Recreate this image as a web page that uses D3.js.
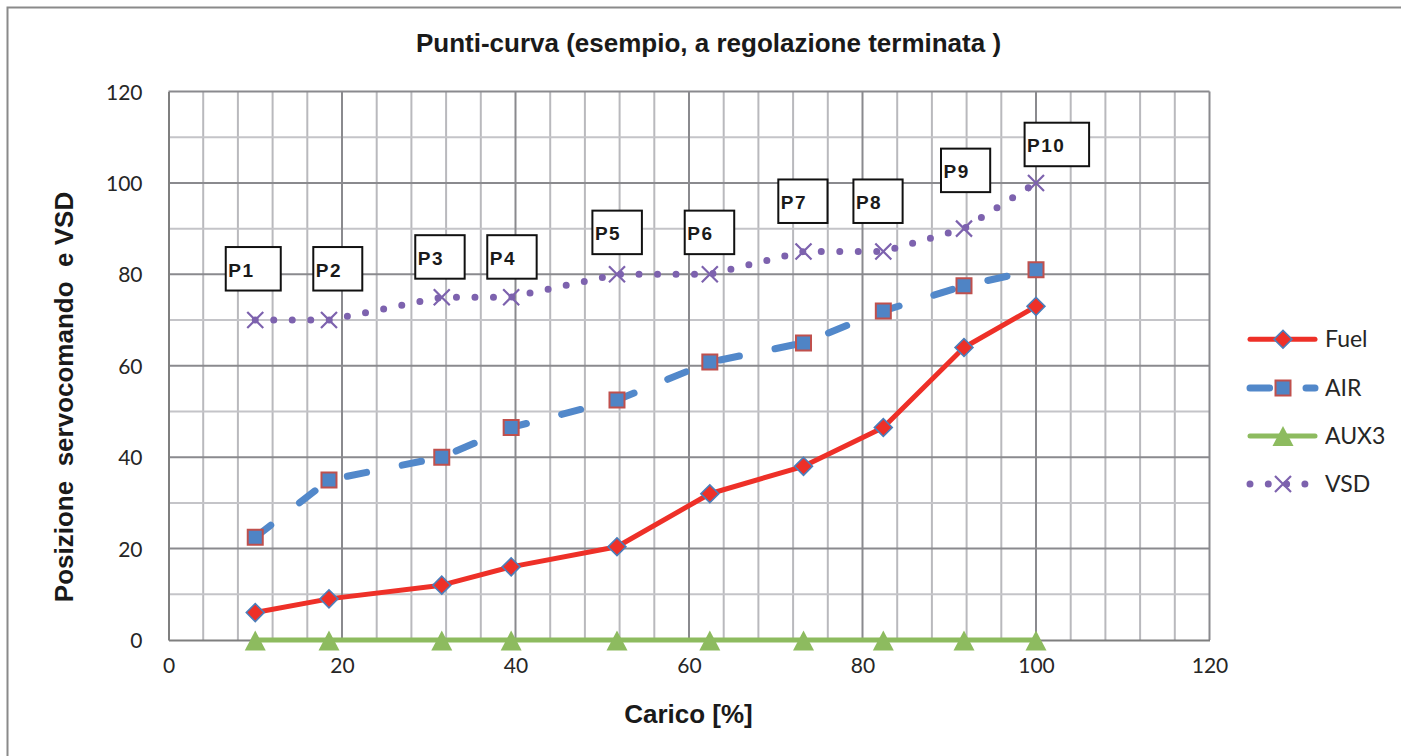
<!DOCTYPE html>
<html>
<head>
<meta charset="utf-8">
<script src="https://cdn.jsdelivr.net/npm/d3@7"></script>
<style>
	body{margin:0;background:#fff;}
	svg{display:block;}
</style>
</head>
<body>
<svg id="chart" width="1401" height="756"></svg>
<script>
// --- data ---
var load = [10, 18.5, 31.5, 39.5, 51.7, 62.4, 73.2, 82.4, 91.7, 100];
var fuel = [6, 9, 12, 16, 20.4, 32, 38, 46.5, 64, 73];
var air  = [22.5, 35, 40, 46.5, 52.5, 60.8, 65, 72, 77.5, 81];
var aux3 = [0, 0, 0, 0, 0, 0, 0, 0, 0, 0];
var vsd  = [70, 70, 75, 75, 80, 80, 85, 85, 90, 100];
var pointNames = ["P1", "P2", "P3", "P4", "P5", "P6", "P7", "P8", "P9", "P10"];
var seriesNames = ["Fuel", "AIR", "AUX3", "VSD"];
var xTicks = [0, 20, 40, 60, 80, 100, 120];
var yTicks = [0, 20, 40, 60, 80, 100, 120];

// label boxes were dragged by hand in the original: [dx, dy, width] from the VSD point
var labelBox = [[-29.5,-73,55],[-15.7,-73,49],[-26.5,-62,49.4],[-23.9,-62,49.4],[-24.6,-63.7,49.5],
	[-25.1,-63.7,49.5],[-25.2,-72,49.2],[-29.9,-72,49.2],[-23,-80,49.2],[-11.4,-60.2,64.5]];

var svg = d3.select("#chart");
var W = 1401, H = 756;

var x = d3.scaleLinear().domain([0, 120]).range([168.5, 1209.5]),
	y = d3.scaleLinear().domain([0, 120]).range([640, 91.5]);

var fontSans = "'Liberation Sans', Arial, sans-serif",
	fontTick = "Lato, 'Open Sans', sans-serif";

var colFuel = "#ee3028", colAir = "#5288ca", colAux = "#8dbb5f", colVsd = "#7d62ae";

svg.append("rect").attr("width", W).attr("height", H).attr("fill", "#fff");
svg.append("rect")
	.attr("x", 7.5).attr("y", 7.5).attr("width", W + 20).attr("height", H + 20)
	.attr("fill", "none").attr("stroke", "#8a8a8a").attr("stroke-width", 2);

// title
svg.append("text")
	.attr("x", 708.5).attr("y", 52)
	.attr("text-anchor", "middle")
	.style("font-family", fontSans).style("font-weight", "bold").style("font-size", "26px")
	.attr("fill", "#1a1a1a")
	.text("Punti-curva (esempio, a regolazione terminata )");

// grid
var grid = svg.append("g");
grid.selectAll(".vmin").data(d3.range(0, 121, 4).filter(function(d){return d % 20 != 0;}))
	.enter().append("line")
	.attr("x1", function(d){return x(d);}).attr("x2", function(d){return x(d);})
	.attr("y1", y(0)).attr("y2", y(120))
	.attr("stroke", "#b9b9bd").attr("stroke-width", 2);
grid.selectAll(".hmin").data(d3.range(10, 121, 20))
	.enter().append("line")
	.attr("y1", function(d){return y(d);}).attr("y2", function(d){return y(d);})
	.attr("x1", x(0)).attr("x2", x(120))
	.attr("stroke", "#c4c4c8").attr("stroke-width", 2);
grid.selectAll(".vmaj").data(xTicks.slice(1))
	.enter().append("line")
	.attr("x1", function(d){return x(d);}).attr("x2", function(d){return x(d);})
	.attr("y1", y(0)).attr("y2", y(120))
	.attr("stroke", "#8a8a8e").attr("stroke-width", 2);
grid.selectAll(".hmaj").data(yTicks.slice(1))
	.enter().append("line")
	.attr("y1", function(d){return y(d);}).attr("y2", function(d){return y(d);})
	.attr("x1", x(0)).attr("x2", x(120))
	.attr("stroke", "#8a8a8e").attr("stroke-width", 2);

// axes
var xAxis = svg.append("g").attr("transform", "translate(0," + y(0) + ")")
	.call(d3.axisBottom(x).tickValues(xTicks).tickSize(0).tickPadding(18));
var yAxis = svg.append("g").attr("transform", "translate(" + x(0) + ",0)")
	.call(d3.axisLeft(y).tickValues(yTicks).tickSize(0).tickPadding(26));
[xAxis, yAxis].forEach(function(a){
	a.select(".domain").attr("stroke", "#7f7f7f").attr("stroke-width", 2);
	a.selectAll("text")
		.style("font-family", fontTick).style("font-size", "21px")
		.attr("fill", "#262626");
});
yAxis.selectAll("text").attr("dy", "0.36em");

// axis titles
svg.append("text")
	.attr("x", 688.5).attr("y", 723)
	.attr("text-anchor", "middle")
	.style("font-family", fontSans).style("font-weight", "bold").style("font-size", "26px")
	.attr("fill", "#1a1a1a")
	.text("Carico [%]");
svg.append("text")
	.attr("transform", "translate(73,397) rotate(-90)")
	.attr("text-anchor", "middle")
	.style("font-family", fontSans).style("font-weight", "bold").style("font-size", "26px")
	.style("white-space", "pre")
	.attr("fill", "#1a1a1a")
	.text("Posizione  servocomando  e VSD");

// series
function pts(vals){
	return vals.map(function(v, i){return [load[i], v];});
}
var line = d3.line().x(function(d){return x(d[0]);}).y(function(d){return y(d[1]);});

var plot = svg.append("g");

var diamond = d3.symbol().type(d3.symbolSquare).size(160)();
var square = d3.symbol().type(d3.symbolSquare).size(225)();
var triangle = "M0,-10L10.5,10L-10.5,10Z";

function drawFuelMarker(g, cx, cy){
	g.append("path").attr("d", diamond)
		.attr("transform", "translate(" + cx + "," + cy + ") rotate(45)")
		.attr("fill", colFuel).attr("stroke", "#4a7ebb").attr("stroke-width", 1.6);
}
function drawAirMarker(g, cx, cy){
	g.append("path").attr("d", square)
		.attr("transform", "translate(" + cx + "," + cy + ")")
		.attr("fill", "#4f84c5").attr("stroke", "#c0504d").attr("stroke-width", 2);
}
function drawAuxMarker(g, cx, cy){
	g.append("path").attr("d", triangle)
		.attr("transform", "translate(" + cx + "," + cy + ")")
		.attr("fill", colAux);
}
function drawVsdMarker(g, cx, cy){
	var r = 8;
	g.append("path")
		.attr("d", "M" + (cx - r) + "," + (cy - r) + "L" + (cx + r) + "," + (cy + r) +
			"M" + (cx - r) + "," + (cy + r) + "L" + (cx + r) + "," + (cy - r))
		.attr("stroke", colVsd).attr("stroke-width", 2.2).attr("fill", "none");
}

// Fuel
plot.append("path").datum(pts(fuel)).attr("d", line)
	.attr("fill", "none").attr("stroke", colFuel).attr("stroke-width", 5)
	.attr("stroke-linejoin", "round").attr("stroke-linecap", "round");
pts(fuel).forEach(function(d){drawFuelMarker(plot, x(d[0]), y(d[1]));});

// AIR
plot.append("path").datum(pts(air)).attr("d", line)
	.attr("fill", "none").attr("stroke", colAir).attr("stroke-width", 7)
	.attr("stroke-dasharray", "19.6 36.4")
	.attr("stroke-linejoin", "round").attr("stroke-linecap", "round");
pts(air).forEach(function(d){drawAirMarker(plot, x(d[0]), y(d[1]));});

// AUX3
plot.append("path").datum(pts(aux3)).attr("d", line)
	.attr("fill", "none").attr("stroke", colAux).attr("stroke-width", 5)
	.attr("stroke-linecap", "round");
pts(aux3).forEach(function(d){drawAuxMarker(plot, x(d[0]), y(d[1]) + 0.5);});

// VSD
plot.append("path").datum(pts(vsd)).attr("d", line)
	.attr("fill", "none").attr("stroke", colVsd).attr("stroke-width", 7)
	.attr("stroke-dasharray", "0 18.5")
	.attr("stroke-linecap", "round");
pts(vsd).forEach(function(d){drawVsdMarker(plot, x(d[0]), y(d[1]));});

// point labels
var labels = svg.append("g");
pointNames.forEach(function(name, i){
	var px = x(load[i]), py = y(vsd[i]), b = labelBox[i];
	labels.append("rect")
		.attr("x", px + b[0]).attr("y", py + b[1])
		.attr("width", b[2]).attr("height", 43.5)
		.attr("fill", "#fff").attr("stroke", "#111").attr("stroke-width", 2);
	labels.append("text")
		.attr("x", px + b[0] + 2.5).attr("y", py + b[1] + 29.5)
		.style("font-family", fontSans).style("font-weight", "bold").style("font-size", "19px")
		.style("letter-spacing", "1.5px")
		.attr("fill", "#1a1a1a")
		.text(name);
});

// legend
var legend = svg.append("g");
var legY = [339.3, 388, 436, 484];
var lx0 = 1250, lx1 = 1315, lmid = 1283;
seriesNames.forEach(function(name, i){
	var ly = legY[i];
	var seg = legend.append("line")
		.attr("x1", lx0).attr("x2", lx1).attr("y1", ly).attr("y2", ly)
		.attr("stroke-linecap", "round");
	if (name == "Fuel"){
		seg.attr("stroke", colFuel).attr("stroke-width", 5);
		drawFuelMarker(legend, lmid, ly);
	} else if (name == "AIR"){
		seg.attr("stroke", colAir).attr("stroke-width", 7).attr("stroke-dasharray", "19.6 36.4");
		drawAirMarker(legend, lmid, ly);
	} else if (name == "AUX3"){
		seg.attr("stroke", colAux).attr("stroke-width", 5);
		drawAuxMarker(legend, lmid, ly);
	} else {
		seg.attr("stroke", colVsd).attr("stroke-width", 7).attr("stroke-dasharray", "0 18.3");
		drawVsdMarker(legend, lmid, ly);
	}
	legend.append("text")
		.attr("x", 1325).attr("y", ly + 8)
		.style("font-family", fontTick).style("font-size", "23px")
		.attr("fill", "#262626")
		.text(name);
});
</script>
</body>
</html>
